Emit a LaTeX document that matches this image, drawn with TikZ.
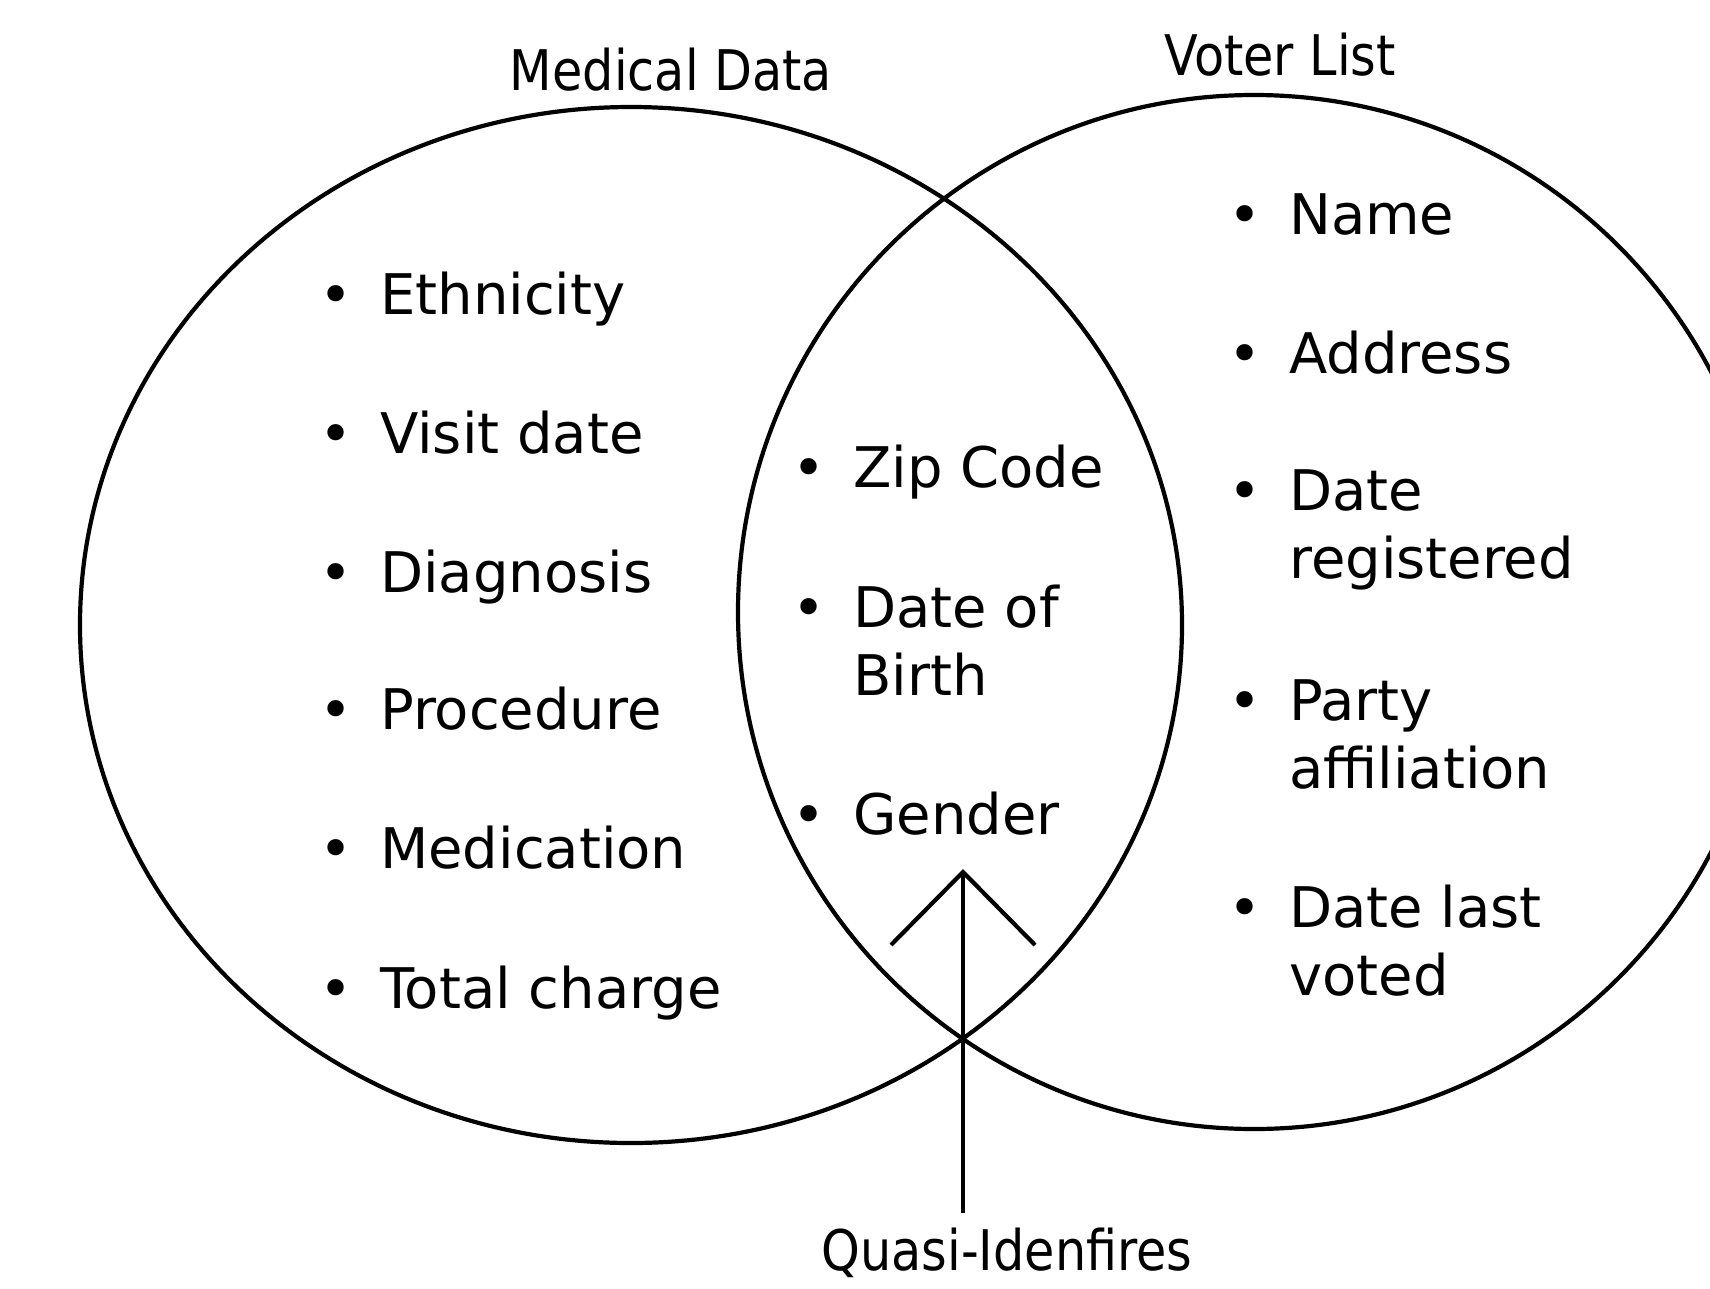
\documentclass[tikz,border=0pt]{standalone}
\usepackage{fontspec}
\setmainfont{DejaVu Sans}
\newfontfamily\titlefont[FakeStretch=0.88]{DejaVu Sans}
\usetikzlibrary{shapes.geometric,arrows.meta}
% one bulleted entry: bullet column, then the (possibly wrapped) words
\newcommand\entrybody[1]{\begin{tabular}[t]{@{}l@{}l@{}}#1\end{tabular}}
\newcommand\blt{\makebox[88pt]{\textbullet}}
\begin{document}
\begin{tikzpicture}[x=1pt,y=-1pt,
  set/.style={draw, ellipse, line width=4.2pt, inner sep=0pt},
  settitle/.style={font={\titlefont\fontsize{56}{68}\selectfont}, inner sep=0pt, anchor=base},
  entry/.style={font={\fontsize{56}{68}\selectfont}, inner sep=0pt, anchor=base west},
]
\useasboundingbox (0,0) rectangle (1710,1288);
\clip (0,0) rectangle (1710,1288);

% the two sets
\node[set, minimum width=1102pt, minimum height=1036pt] (medical) at (631,625) {};
\node[set, minimum width=1032pt, minimum height=1034pt] (voter) at (1254,612) {};

% set titles
\node[settitle] (medtitle) at (671,90) {Medical Data};
\node[settitle] (votetitle) at (1280,75) {Voter List};

% medical-only fields
\node[entry] (eth)  at (292,314)  {\entrybody{\blt & Ethnicity}};
\node[entry] (vis)  at (292,453)  {\entrybody{\blt & Visit date}};
\node[entry] (diag) at (292,592)  {\entrybody{\blt & Diagnosis}};
\node[entry] (proc) at (292,729)  {\entrybody{\blt & Procedure}};
\node[entry] (medi) at (292,868)  {\entrybody{\blt & Medication}};
\node[entry] (tot)  at (292,1008) {\entrybody{\blt & Total charge}};

% shared fields
\node[entry] (zip) at (765,487) {\entrybody{\blt & Zip Code}};
\node[entry] (dob) at (765,627) {\entrybody{\blt & Date of\\ & Birth}};
\node[entry] (gen) at (765,834) {\entrybody{\blt & Gender}};

% voter-only fields
\node[entry] (name)  at (1201,234) {\entrybody{\blt & Name}};
\node[entry] (addr)  at (1201,373) {\entrybody{\blt & Address}};
\node[entry] (dreg)  at (1201,510) {\entrybody{\blt & Date\\ & registered}};
\node[entry] (party) at (1201,720) {\entrybody{\blt & Party\\ & affiliation}};
\node[entry] (dlv)   at (1201,927) {\entrybody{\blt & Date last\\ & voted}};

% pointer to the shared fields
\node[settitle, inner sep=0pt, outer ysep=14pt] (quasi) at (1007,1270) {Quasi-Idenfires};
\coordinate (tip) at (963,869);
\draw[line width=4.2pt, -{Straight Barb[length=73pt, width=144pt, line width=4.2pt]}]
  (tip |- quasi.north) -- (tip);
\end{tikzpicture}
\end{document}
